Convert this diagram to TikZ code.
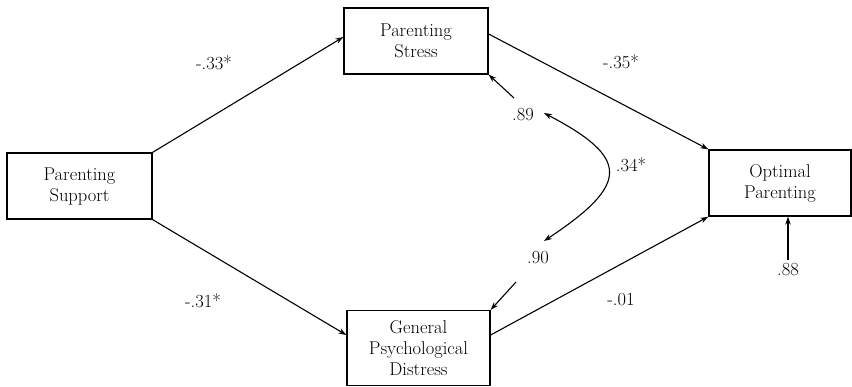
\documentclass[tikz,border=0pt]{standalone}
\usepackage{tikz}
\usetikzlibrary{arrows.meta,calc,positioning}

\begin{document}
\begin{tikzpicture}[x=1pt,y=-1pt,
  every node/.style={font=\fontsize{18.5}{21}\selectfont},
  var/.style={draw,line width=1.3pt,align=center,inner sep=0pt},
  path/.style={line width=1.1pt,-{Stealth[length=8pt,width=5.5pt]}},
  ]
  \useasboundingbox (0,0) rectangle (852,386);
  % variables
  \node[var,minimum width=145pt,minimum height=66pt] (support) at (79.5,186) {Parenting\\Support};
  \node[var,minimum width=144pt,minimum height=66pt] (stress) at (416,41) {Parenting\\Stress};
  \node[var,minimum width=142pt,minimum height=66pt] (optimal) at (780,183) {Optimal\\Parenting};
  \node[var,minimum width=143pt,minimum height=75pt] (distress) at (418.5,348) {General\\Psychological\\Distress};
  % paths
  \draw[path] (support.north east) -- ([yshift=4pt]stress.west);
  \draw[path] ([yshift=7pt]stress.east) -- (optimal.north west);
  \draw[path] (support.south east) -- ([yshift=13pt]distress.west);
  \draw[path] ([yshift=13pt]distress.east) -- (optimal.south west);
  \node (l33) at (214,63) {-.33*};
  \node (l35) at (621,62) {-.35*};
  \node (l31) at (203,301) {-.31*};
  \node (l01) at (621,300) {-.01};
  % residuals
  \node (e89) at (523,115) {.89};
  \node (e90) at (538,258) {.90};
  \node (r88) at (788,270) {.88};
  \coordinate (t89) at (514,98);
  \coordinate (t90) at (516,282);
  \draw[path] (t89) -- (stress.south east);
  \draw[path] (t90) -- (distress.north east);
  \draw[path] (r88.north) -- (r88.north |- optimal.south);
  % covariance
  \coordinate (c89) at (544,113);
  \coordinate (c90) at (544,241);
  \draw[path,{Stealth[length=8pt,width=5.5pt]}-{Stealth[length=8pt,width=5.5pt]}]
    (c89) .. controls (630,158) and (630,184) .. (c90);
  \node (l34) at (631,165) {.34*};
\end{tikzpicture}
\end{document}
